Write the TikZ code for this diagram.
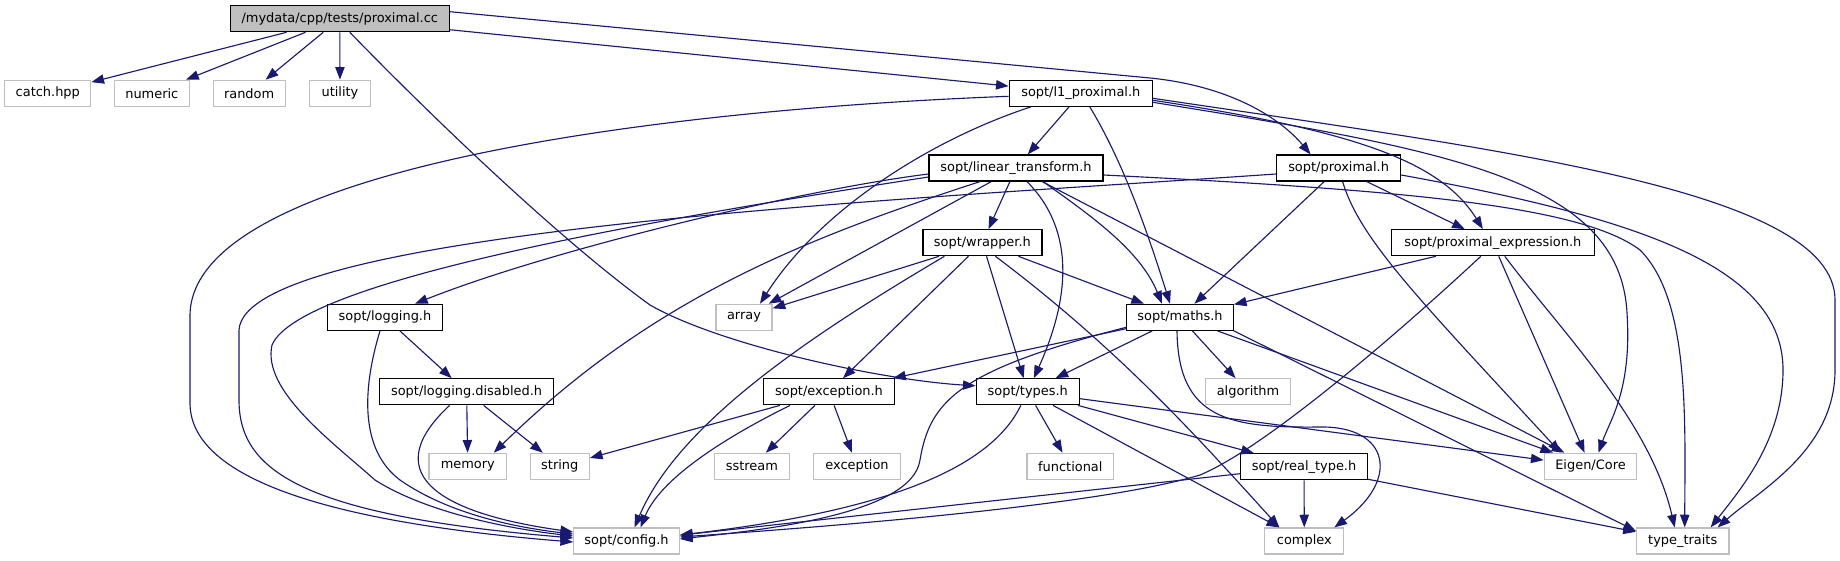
\documentclass[tikz,border=0pt]{standalone}
\usepackage{fontspec}
\setmainfont{DejaVu Sans}
\usetikzlibrary{arrows.meta,calc}
\definecolor{edgeblue}{HTML}{191970}
\definecolor{sysgray}{HTML}{BFBFBF}
\definecolor{rootgray}{HTML}{BFBFBF}
\begin{document}
\begin{tikzpicture}[x=0.75pt,y=-0.75pt,
  box/.style={rectangle,inner sep=0pt,minimum height=19.5pt,line width=0.9pt,
              font=\fontsize{9.7}{11}\selectfont},
  hdr/.style={box,draw=black,fill=white},
  sys/.style={box,draw=sysgray,fill=white},
  root/.style={box,draw=black,fill=rootgray},
  w/.style={minimum width=#1*0.75pt},
  dep/.style={draw=edgeblue,line width=0.85pt,-{Triangle[length=9.5pt,width=7pt]}}]
\useasboundingbox (0,0) rectangle (1840,560);

% nodes
\node[root,w=219] (P0) at (339.8,18.7) {/mydata/cpp/tests/proximal.cc};
\node[sys,w=86] (CATCH) at (47.8,93.3) {catch.hpp};
\node[sys,w=75] (NUM) at (151.8,93.3) {numeric};
\node[sys,w=72] (RND) at (249.1,93.3) {random};
\node[sys,w=60.6] (UTL) at (340,93.3) {utility};
\node[hdr,w=143] (L1) at (1080.8,93.3) {sopt/l1\_proximal.h};
\node[hdr,w=174] (LT) at (1016,168) {sopt/linear\_transform.h};
\node[hdr,w=124] (PH) at (1338.6,168) {sopt/proximal.h};
\node[hdr,w=119] (WR) at (982.4,242.7) {sopt/wrapper.h};
\node[hdr,w=203] (PE) at (1492.8,242.7) {sopt/proximal\_expression.h};
\node[hdr,w=115] (LOG) at (385,317.3) {sopt/logging.h};
\node[sys,w=56] (ARR) at (744,317.3) {array};
\node[hdr,w=106.6] (MA) at (1180,317.3) {sopt/maths.h};
\node[hdr,w=174] (LD) at (466.6,391.8) {sopt/logging.disabled.h};
\node[hdr,w=131] (EXH) at (829,391.8) {sopt/exception.h};
\node[hdr,w=103] (TY) at (1027.8,391.8) {sopt/types.h};
\node[sys,w=85.4] (ALG) at (1248,391.8) {algorithm};
\node[sys,w=77.5] (MEM) at (467.8,466.3) {memory};
\node[sys,w=59] (STR) at (559.8,466.3) {string};
\node[sys,w=75] (SS) at (751.8,466.3) {sstream};
\node[sys,w=86.6] (EXC) at (857,466.3) {exception};
\node[sys,w=86.6] (FN) at (1070.3,466.3) {functional};
\node[hdr,w=127] (RT) at (1304,466.7) {sopt/real\_type.h};
\node[sys,w=92.6] (EC) at (1590.5,466.3) {Eigen/Core};
\node[sys,w=105.6] (CFG) at (626.5,541) {sopt/config.h};
\node[sys,w=79] (CX) at (1304.3,541) {complex};
\node[sys,w=92.5] (TT) at (1682.7,541) {type\_traits};

% proximal.cc
\draw[dep] (P0) -- (CATCH);
\draw[dep] (P0) -- (NUM);
\draw[dep] (P0) -- (RND);
\draw[dep] (P0) -- (UTL);
\draw[dep] ($(P0.south)+(10,0)$) .. controls (430,115) and (560,240) .. (650,305)
  .. controls (720,345) and (880,380) .. ($(TY.west)+(0,-6)$);
\draw[dep] (P0) -- (L1);
\draw[dep] ($(P0.east)+(0,-7)$) -- (1150,78) .. controls (1230,86) and (1280,118) .. ($(PH.north)+(-28,0)$);

% l1_proximal.h
\draw[dep] (L1) -- (LT);
\draw[dep] ($(L1.west)+(0,3)$) .. controls (650,110) and (192,170) .. (190,315) -- (190,403)
  .. controls (190,470) and (300,520) .. ($(CFG.west)+(0,1)$);
\draw[dep] ($(L1.south)+(-50,0)$) .. controls (930,140) and (820,210) .. ($(ARR.north)+(16,0)$);
\draw[dep] ($(L1.south)+(9,0)$) .. controls (1125,165) and (1150,240) .. ($(MA.north)+(-10,0)$);
\draw[dep] ($(L1.east)+(0,7)$) .. controls (1350,130) and (1440,160) .. ($(PE.north)+(-10,0)$);
\draw[dep] ($(L1.east)+(0,9)$) .. controls (1450,150) and (1620,180) .. (1627,313)
  .. controls (1632,390) and (1610,420) .. ($(EC.north)+(8,0)$);
\draw[dep] ($(L1.east)+(0,5)$) .. controls (1500,150) and (1835,190) .. (1835,300) -- (1835,370)
  .. controls (1835,450) and (1760,490) .. ($(TT.north)+(35,0)$);

% linear_transform.h
\draw[dep] ($(LT.west)+(0,6)$) .. controls (800,190) and (550,250) .. ($(LOG.north)+(30,0)$);
\draw[dep] ($(LT.west)+(0,9)$) .. controls (650,220) and (300,280) .. (272,345)
  .. controls (262,390) and (330,440) .. (375,480)
  .. controls (430,515) and (520,530) .. ($(CFG.west)+(0,-5)$);
\draw[dep] ($(LT.south)+(-36,0)$) .. controls (800,240) and (650,300) .. ($(MEM.north)+(26,0)$);
\draw[dep] (LT) -- (ARR);
\draw[dep] (LT) -- (WR);
\draw[dep] ($(LT.south)+(11,0)$) .. controls (1085,240) and (1060,320) .. ($(TY.north)+(6,0)$);
\draw[dep] ($(LT.south)+(27,0)$) .. controls (1090,215) and (1140,250) .. ($(MA.north)+(-18,0)$);
\draw[dep] (LT) -- (EC);
\draw[dep] ($(LT.east)+(0,7)$) .. controls (1400,190) and (1580,205) .. (1640,250)
  .. controls (1690,300) and (1685,420) .. ($(TT.north)+(2,0)$);

% proximal.h
\draw[dep] (PH) -- (MA);
\draw[dep] ($(PH.south)+(4,0)$) .. controls (1360,240) and (1420,300) .. ($(EC.north)+(-30,0)$);
\draw[dep] (PH) -- (PE);
\draw[dep] ($(PH.east)+(0,7)$) .. controls (1650,220) and (1783,270) .. (1783,370)
  .. controls (1783,440) and (1740,490) .. ($(TT.north)+(28,0)$);
\draw[dep] ($(PH.west)+(0,6)$) .. controls (900,200) and (245,230) .. (239,330) -- (239,400)
  .. controls (239,470) and (300,515) .. ($(CFG.west)+(0,-3)$);

% proximal_expression.h
\draw[dep] (PE) -- (MA);
\draw[dep] ($(PE.south)+(-12,0)$) .. controls (1380,350) and (1260,450) .. (1200,475)
  .. controls (1100,505) and (850,525) .. ($(CFG.east)+(0,-4)$);
\draw[dep] (PE) -- (EC);
\draw[dep] ($(PE.south)+(12,0)$) .. controls (1560,330) and (1650,420) .. ($(TT.north)+(-8,0)$);

% wrapper.h
\draw[dep] (WR) -- (ARR);
\draw[dep] ($(WR.south)+(-38,0)$) .. controls (820,330) and (680,420) .. ($(CFG.north)+(8,0)$);
\draw[dep] (WR) -- (EXH);
\draw[dep] (WR) -- (TY);
\draw[dep] (WR) -- (MA);
\draw[dep] ($(WR.south)+(13,0)$) .. controls (1120,350) and (1200,440) .. ($(CX.north)+(-25,0)$);

% logging
\draw[dep] ($(LOG.south)+(-5,0)$) .. controls (362,390) and (360,450) .. (400,480)
  .. controls (450,515) and (520,528) .. ($(CFG.west)+(0,-7)$);
\draw[dep] (LOG) -- (LD);
\draw[dep] (LD) -- (MEM);
\draw[dep] (LD) -- (STR);
\draw[dep] ($(LD.south)+(-17,0)$) .. controls (380,470) and (430,512) .. ($(CFG.west)+(0,-9)$);

% exception.h
\draw[dep] ($(EXH.south)+(-39,0)$) .. controls (720,440) and (660,480) .. ($(CFG.north)+(14,0)$);
\draw[dep] (EXH) -- (STR);
\draw[dep] (EXH) -- (SS);
\draw[dep] (EXH) -- (EXC);

% types.h
\draw[dep] ($(TY.south)+(-7,0)$) .. controls (985,480) and (850,515) .. ($(CFG.east)+(0,-6)$);
\draw[dep] (TY) -- (FN);
\draw[dep] (TY) -- (RT);
\draw[dep] (TY) -- (CX);
\draw[dep] (TY) -- (EC);

% real_type.h
\draw[dep] (RT) -- (CX);
\draw[dep] (RT) -- (TT);
\draw[dep] (RT) -- (CFG);

% maths.h
\draw[dep] (MA) -- (ALG);
\draw[dep] (MA) -- (EXH);
\draw[dep] (MA) -- (TY);
\draw[dep] ($(MA.west)+(0,10)$) .. controls (960,370) and (930,400) .. (920,460)
  .. controls (912,515) and (760,530) .. ($(CFG.east)+(0,-2)$);
\draw[dep] ($(MA.south)+(-3,0)$) .. controls (1178,420) and (1230,428) .. (1320,427)
  .. controls (1390,426) and (1400,480) .. ($(CX.north)+(30,0)$);
\draw[dep] (MA) -- (EC);
\draw[dep] (MA.south east) -- ($(TT.west)+(0,-10)$);
\end{tikzpicture}
\end{document}
